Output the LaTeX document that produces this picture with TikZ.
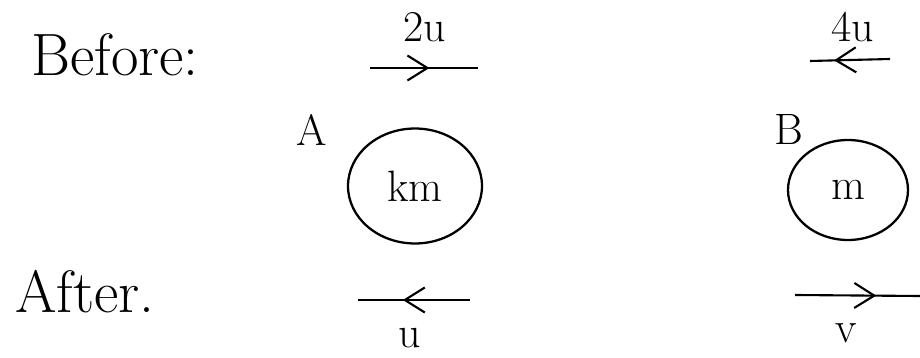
\documentclass[tikz,border=0pt]{standalone}
\usepackage{tikz}
\usetikzlibrary{arrows.meta,shapes.geometric,decorations.markings}

\tikzset{
    big/.style={font=\fontsize{34}{40}\selectfont},
    lab/.style={font=\fontsize{25}{30}\selectfont},
    ball/.style={draw, ellipse, line width=1.3pt, inner sep=0pt},
    vel/.style={line width=1.2pt, postaction={decorate},
        decoration={markings, mark=at position #1 with
            {\arrow{Straight Barb[length=4mm, width=5mm, line width=1.2pt]}}}},
    velback/.style={line width=1.2pt, postaction={decorate},
        decoration={markings, mark=at position #1 with
            {\arrowreversed{Straight Barb[length=4mm, width=5mm, line width=1.2pt]}}}}
}

\begin{document}
\begin{tikzpicture}[x=0.02cm, y=-0.02cm]
    % fix the page to the reference size
    \useasboundingbox (0,0) rectangle (920,358);
    % headings
    \node[big] (before) at (115,55) {Before:};
    \node[big] (after) at (85,292) {After.};
    % the two balls
    \node[ball, minimum width=2.68cm, minimum height=2.3cm, lab] (ballA) at (415,186) {km};
    \node[ball, minimum width=2.4cm, minimum height=2.0cm, lab] (ballB) at (848,190) {m};
    \node[lab] (nameA) at (312,130) {A};
    \node[lab] (nameB) at (789,130) {B};
    % velocities before
    \coordinate (a1) at (370,68);
    \coordinate (a2) at (478,68);
    \draw[vel=0.55] (a1) -- (a2);
    \node[lab] (velA) at (425,27) {2u};
    \coordinate (b1) at (810,61);
    \coordinate (b2) at (890,59);
    \draw[velback=0.3] (b1) -- (b2);
    \node[lab] (velB) at (853,27) {4u};
    % velocities after
    \coordinate (c1) at (358,300);
    \coordinate (c2) at (470,300);
    \draw[velback=0.4] (c1) -- (c2);
    \node[lab] (velA2) at (410,338) {u};
    \coordinate (d1) at (795,295);
    \coordinate (d2) at (920,296);
    \draw[vel=0.65] (d1) -- (d2);
    \node[lab] (velB2) at (846,333) {v};
\end{tikzpicture}
\end{document}
